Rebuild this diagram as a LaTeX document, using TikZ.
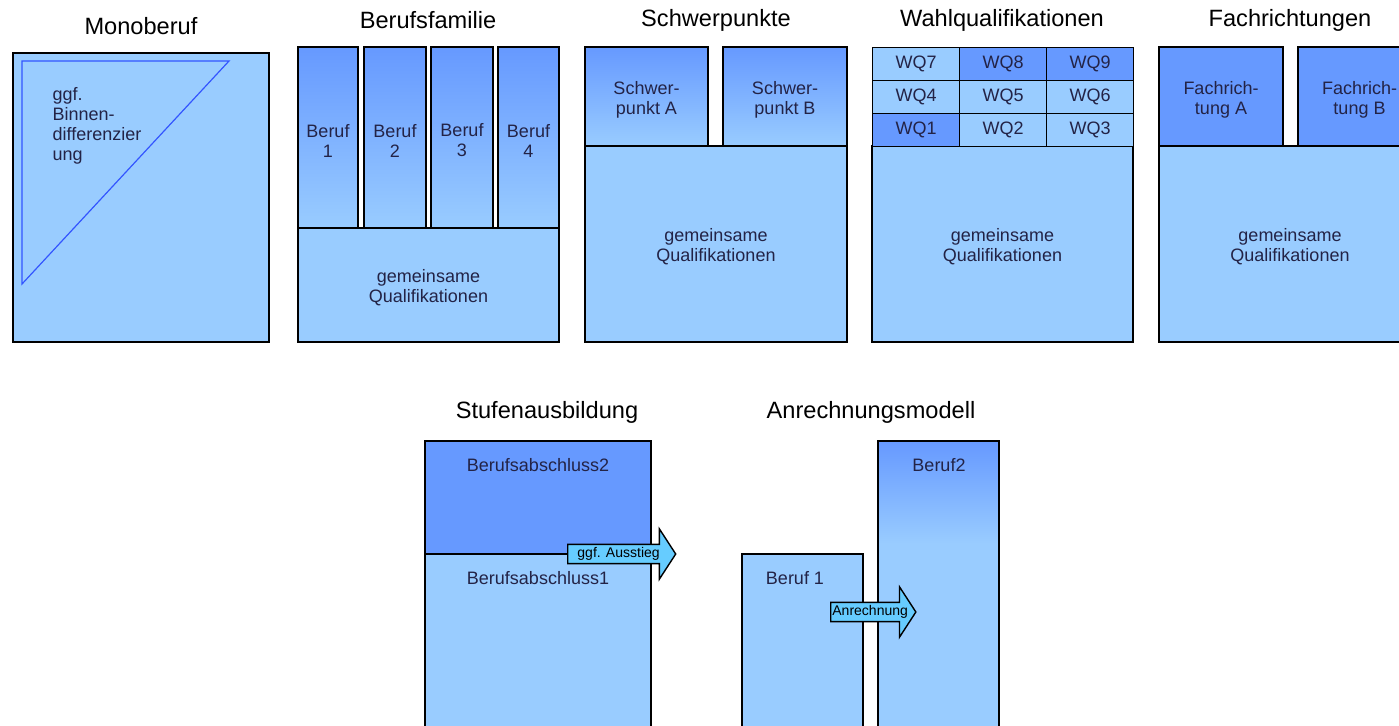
\documentclass[tikz,border=0pt]{standalone}
\usepackage{fontspec}
\setmainfont{Liberation Sans}
\usetikzlibrary{positioning, fit, shapes.arrows}
\definecolor{qlight}{RGB}{153,204,255}
\definecolor{qdark}{RGB}{102,153,255}
\definecolor{arrowcyan}{RGB}{102,204,255}
\definecolor{diffline}{RGB}{51,85,255}
\definecolor{navytext}{RGB}{35,35,70}
\pgfdeclareverticalshading{berufshade}{100bp}{%
  color(0bp)=(qlight); color(59bp)=(qlight);
  color(75bp)=(qdark); color(100bp)=(qdark)}

\begin{document}
\begin{tikzpicture} [%
    x = 0.5pt,
    y = -0.5pt,
    line width = 0.7pt,
    every node/.style = {%
      font = \fontsize{9}{10}\selectfont,
      text = navytext },
    title/.style = {font = \fontsize{11.8}{14}\selectfont, text = black},
    lightbox/.style = {draw, fill = qlight, inner sep = 0pt},
    darkbox/.style = {lightbox, fill = qdark},
    fadebox/.style = {lightbox, top color = qdark, bottom color = qlight},
    boxtext/.style = {align = center, inner sep = 0pt, yshift = -1.5pt},
    wqcell/.style = {%
      draw, anchor = north west, inner sep = 0pt,
      minimum width = 43.5pt, minimum height = 16.5pt },
    flowarrow/.style = {%
      single arrow, draw, fill = arrowcyan, anchor = tail,
      font = \fontsize{7}{8}\selectfont, text = black,
      inner xsep = 0.5pt, inner ysep = 1.2pt,
      single arrow head extend = 7.75pt,
      single arrow tip angle = 114 }
  ]

  \clip (0,0) rectangle (1399,725);
  \fill[white] (0,0) rectangle (1399,725);

  % titles
  \node[title] (tmono) at (141,26) {Monoberuf};
  \node[title] (tfam)  at (428,20) {Berufsfamilie};
  \node[title] (tschw) at (716,20) {Schwerpunkte};
  \node[title] (twq)   at (1002,20) {Wahlqualifikationen};
  \node[title] (tfach) at (1290,20) {Fachrichtungen};
  \node[title] (tstuf) at (547,412) {Stufenausbildung};
  \node[title] (tanr)  at (871,412) {Anrechnungsmodell};

  % Monoberuf
  \node[lightbox, fit={(13,53) (269,342)}] (mono) {};
  \draw[diffline, line width = 0.6pt] (22,61) -- (229,61) -- (22,284) -- cycle;
  \node[anchor = north west, inner sep = 0pt, align = left] (binnen) at (52,87)
    {ggf.\\Binnen-\\differenzier\\ung};

  % Berufsfamilie
  \node[lightbox, fit={(298,228) (559,342)},
    label={[boxtext]center:gemeinsame\\Qualifikationen}] (famq) {};
  \foreach \i/\xa/\xb in {1/298/358, 2/364/426, 3/431/493, 4/498/559}
    \node[fadebox, fit={(\xa,47) (\xb,228)},
      label={[boxtext]center:Beruf\\\i}] (beruf\i) {};

  % Schwerpunkte
  \node[lightbox, fit={(585,146) (847,342)},
    label={[boxtext]center:gemeinsame\\Qualifikationen}] (schwq) {};
  \node[fadebox, fit={(585,47) (708,146)},
    label={[boxtext]center:Schwer-\\punkt A}] (schwa) {};
  \node[fadebox, fit={(723,47) (847,146)},
    label={[boxtext]center:Schwer-\\punkt B}] (schwb) {};

  % Wahlqualifikationen
  \node[lightbox, fit={(872,146) (1133,342)},
    label={[boxtext]center:gemeinsame\\Qualifikationen}] (wqq) {};
  \foreach \n/\col/\row/\tone in {7/0/0/qlight, 8/1/0/qdark, 9/2/0/qdark,
      4/0/1/qlight, 5/1/1/qlight, 6/2/1/qlight,
      1/0/2/qdark, 2/1/2/qlight, 3/2/2/qlight}
    \node[wqcell, fill = \tone] (wq\n) at (872+87*\col, 47+33*\row) {WQ\n};

  % Fachrichtungen
  \node[lightbox, fit={(1159,146) (1421,342)},
    label={[boxtext]center:gemeinsame\\Qualifikationen}] (fachq) {};
  \node[darkbox, fit={(1159,47) (1283,146)},
    label={[boxtext]center:Fachrich-\\tung A}] (facha) {};
  \node[darkbox, fit={(1298,47) (1421,146)},
    label={[boxtext]center:Fachrich-\\tung B}] (fachb) {};

  % Stufenausbildung
  \node[darkbox, fit={(425,441) (651,554)}] (stufe2) {};
  \node[lightbox, fit={(425,554) (651,760)}] (stufe1) {};
  \node (abschl2) at (538,465) {Berufsabschluss2};
  \node (abschl1) at (538,578) {Berufsabschluss1};
  \node[flowarrow, minimum height = 54pt] (ausstieg) at (567,554) {ggf. Ausstieg};

  % Anrechnungsmodell
  \node[lightbox, fit={(742,554) (863,760)}] (anr1) {};
  \node[lightbox, shading = berufshade, fit={(878,441) (999,760)}] (anr2) {};
  \node (beruf1t) at (795,578) {Beruf 1};
  \node (beruf2t) at (939,465) {Beruf2};
  \node[flowarrow, minimum height = 41.5pt] (anrechnung) at (830,612) {Anrechnung};

\end{tikzpicture}
\end{document}
